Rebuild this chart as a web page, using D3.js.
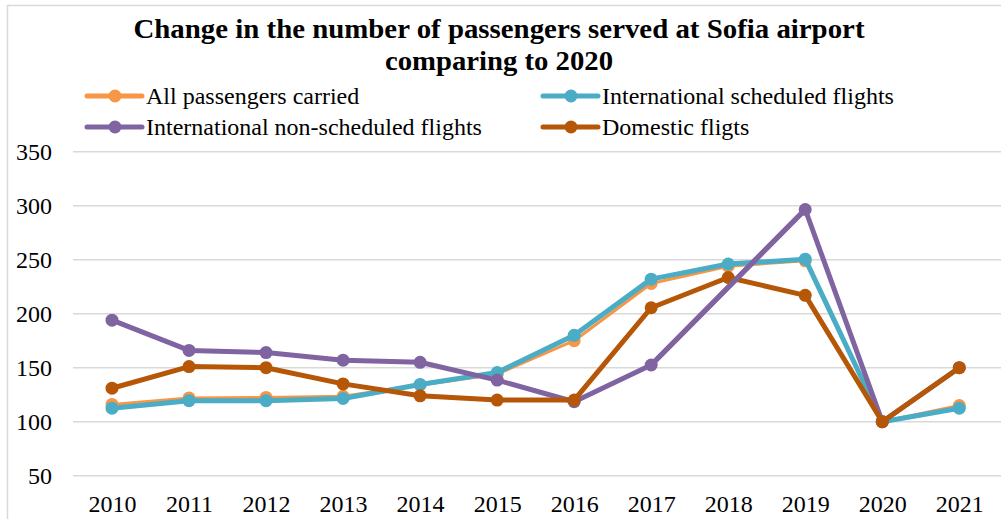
<!DOCTYPE html>
<html>
<head>
<meta charset="utf-8">
<script src="https://cdn.jsdelivr.net/npm/d3@7"></script>
<style>
  html, body { margin: 0; padding: 0; background: #fff; overflow: hidden; }
  svg { display: block; }
</style>
</head>
<body>
<svg id="chart" width="1001" height="519"></svg>
<script>
// ---- data ----
const years = ["2010","2011","2012","2013","2014","2015","2016","2017","2018","2019","2020","2021"];
const allPassengers      = [116, 122, 122.5, 123.5, 134, 144, 175, 228, 244, 249, 100, 115];
const intlScheduled      = [112.5, 119.5, 119.5, 121.5, 134.5, 145.5, 180, 232, 246, 250.5, 100, 112.5];
const intlNonScheduled   = [194, 166, 164, 157, 155, 138.5, 118.5, 152.5, null, 296.5, 100, 150];
const domestic           = [131, 151, 150, 135, 124, 120, 120, 205.5, 233.5, 217, 100, 150];
const yTicks = [50, 100, 150, 200, 250, 300, 350];
const titleLines = ["Change in the number of passengers served at Sofia airport", "comparing to 2020"];
const seriesNames = ["All passengers carried", "International scheduled flights", "International non-scheduled flights", "Domestic fligts"];

const series = [
  { name: seriesNames[0], values: allPassengers,    color: "#F79646", width: 3 },
  { name: seriesNames[1], values: intlScheduled,    color: "#4BACC6", width: 5 },
  { name: seriesNames[2], values: intlNonScheduled, color: "#8064A2", width: 5 },
  { name: seriesNames[3], values: domestic,         color: "#B65708", width: 5 }
];

const FONT = "'Liberation Serif'";
const svg = d3.select("#chart");

// frame
svg.append("rect").attr("x", 7.5).attr("y", 5.5).attr("width", 1100).attr("height", 600)
  .attr("fill", "#fff").attr("stroke", "#d9d9d9").attr("stroke-width", 1.5);

// title
const titleWidths = [731, 228];
const titleY = [38, 70];
titleLines.forEach((t, i) => {
  svg.append("text").attr("x", 499).attr("y", titleY[i]).attr("text-anchor", "middle")
    .style("font-family", FONT).style("font-size", "27px").style("font-weight", "bold")
    .attr("fill", "#000")
    .attr("textLength", titleWidths[i]).attr("lengthAdjust", "spacingAndGlyphs")
    .text(t);
});

// scales
const x = d3.scalePoint().domain(years).range([73.5, 997.8]).padding(0.5);
const y = d3.scaleLinear().domain([50, 350]).range([475.7, 151.7]);

// gridlines
svg.append("g").selectAll("line").data(yTicks).join("line")
  .attr("x1", 73).attr("x2", 1001)
  .attr("y1", d => y(d)).attr("y2", d => y(d))
  .attr("stroke", "#d9d9d9").attr("stroke-width", 1.5);

// y axis labels
const yAxis = d3.axisLeft(y).tickValues(yTicks).tickSize(0).tickPadding(0);
const gy = svg.append("g").attr("transform", "translate(52,0)").call(yAxis);
gy.attr("font-family", null).attr("font-size", null);
gy.select(".domain").remove();
gy.selectAll("text").style("font-family", FONT).style("font-size", "24px").attr("fill", "#000");

// x axis labels
const xAxis = d3.axisBottom(x).tickSize(0).tickPadding(0);
const gx = svg.append("g").attr("transform", "translate(0,494.5)").call(xAxis);
gx.attr("font-family", null).attr("font-size", null);
gx.select(".domain").remove();
gx.selectAll("text").style("font-family", FONT).style("font-size", "24px").attr("fill", "#000");

// series
const line = d3.line()
  .defined(d => d.v != null)
  .x(d => x(d.year)).y(d => y(d.v));

function drawSeries(s) {
  const pts = years.map((yr, i) => ({ year: yr, v: s.values[i] }));
  const valid = pts.filter(d => d.v != null);
  const g = svg.append("g");
  g.append("path").datum(valid).attr("d", line)
    .attr("fill", "none").attr("stroke", s.color).attr("stroke-width", s.width)
    .attr("stroke-linejoin", "round").attr("stroke-linecap", "round");
  g.selectAll("circle").data(valid).join("circle")
    .attr("cx", d => x(d.year)).attr("cy", d => y(d.v)).attr("r", 6.5)
    .attr("fill", s.color);
}
series.forEach(drawSeries);

// purple bridge over the missing 2018 point lies on top
(function () {
  const s = series[2];
  const idx = s.values.findIndex(v => v == null);
  if (idx > 0) {
    const seg = [
      { year: years[idx - 1], v: s.values[idx - 1] },
      { year: years[idx + 1], v: s.values[idx + 1] }
    ];
    svg.append("path").datum(seg).attr("d", line)
      .attr("fill", "none").attr("stroke", s.color).attr("stroke-width", s.width)
      .attr("stroke-linecap", "butt");
  }
})();

// legend
const legendPos = [
  { x: 87, y: 96 }, { x: 543, y: 96 },
  { x: 87, y: 127 }, { x: 543, y: 127 }
];
series.forEach((s, i) => {
  const p = legendPos[i];
  const g = svg.append("g").attr("transform", `translate(${p.x},${p.y})`);
  g.append("line").attr("x1", 0).attr("x2", 55).attr("y1", 0).attr("y2", 0)
    .attr("stroke", s.color).attr("stroke-width", 5).attr("stroke-linecap", "round");
  g.append("circle").attr("cx", 28).attr("cy", 0).attr("r", 6.5).attr("fill", s.color);
  g.append("text").attr("x", 59).attr("y", 0).attr("dy", "0.33em")
    .style("font-family", FONT).style("font-size", "24px").attr("fill", "#000").text(s.name);
});
</script>
</body>
</html>
